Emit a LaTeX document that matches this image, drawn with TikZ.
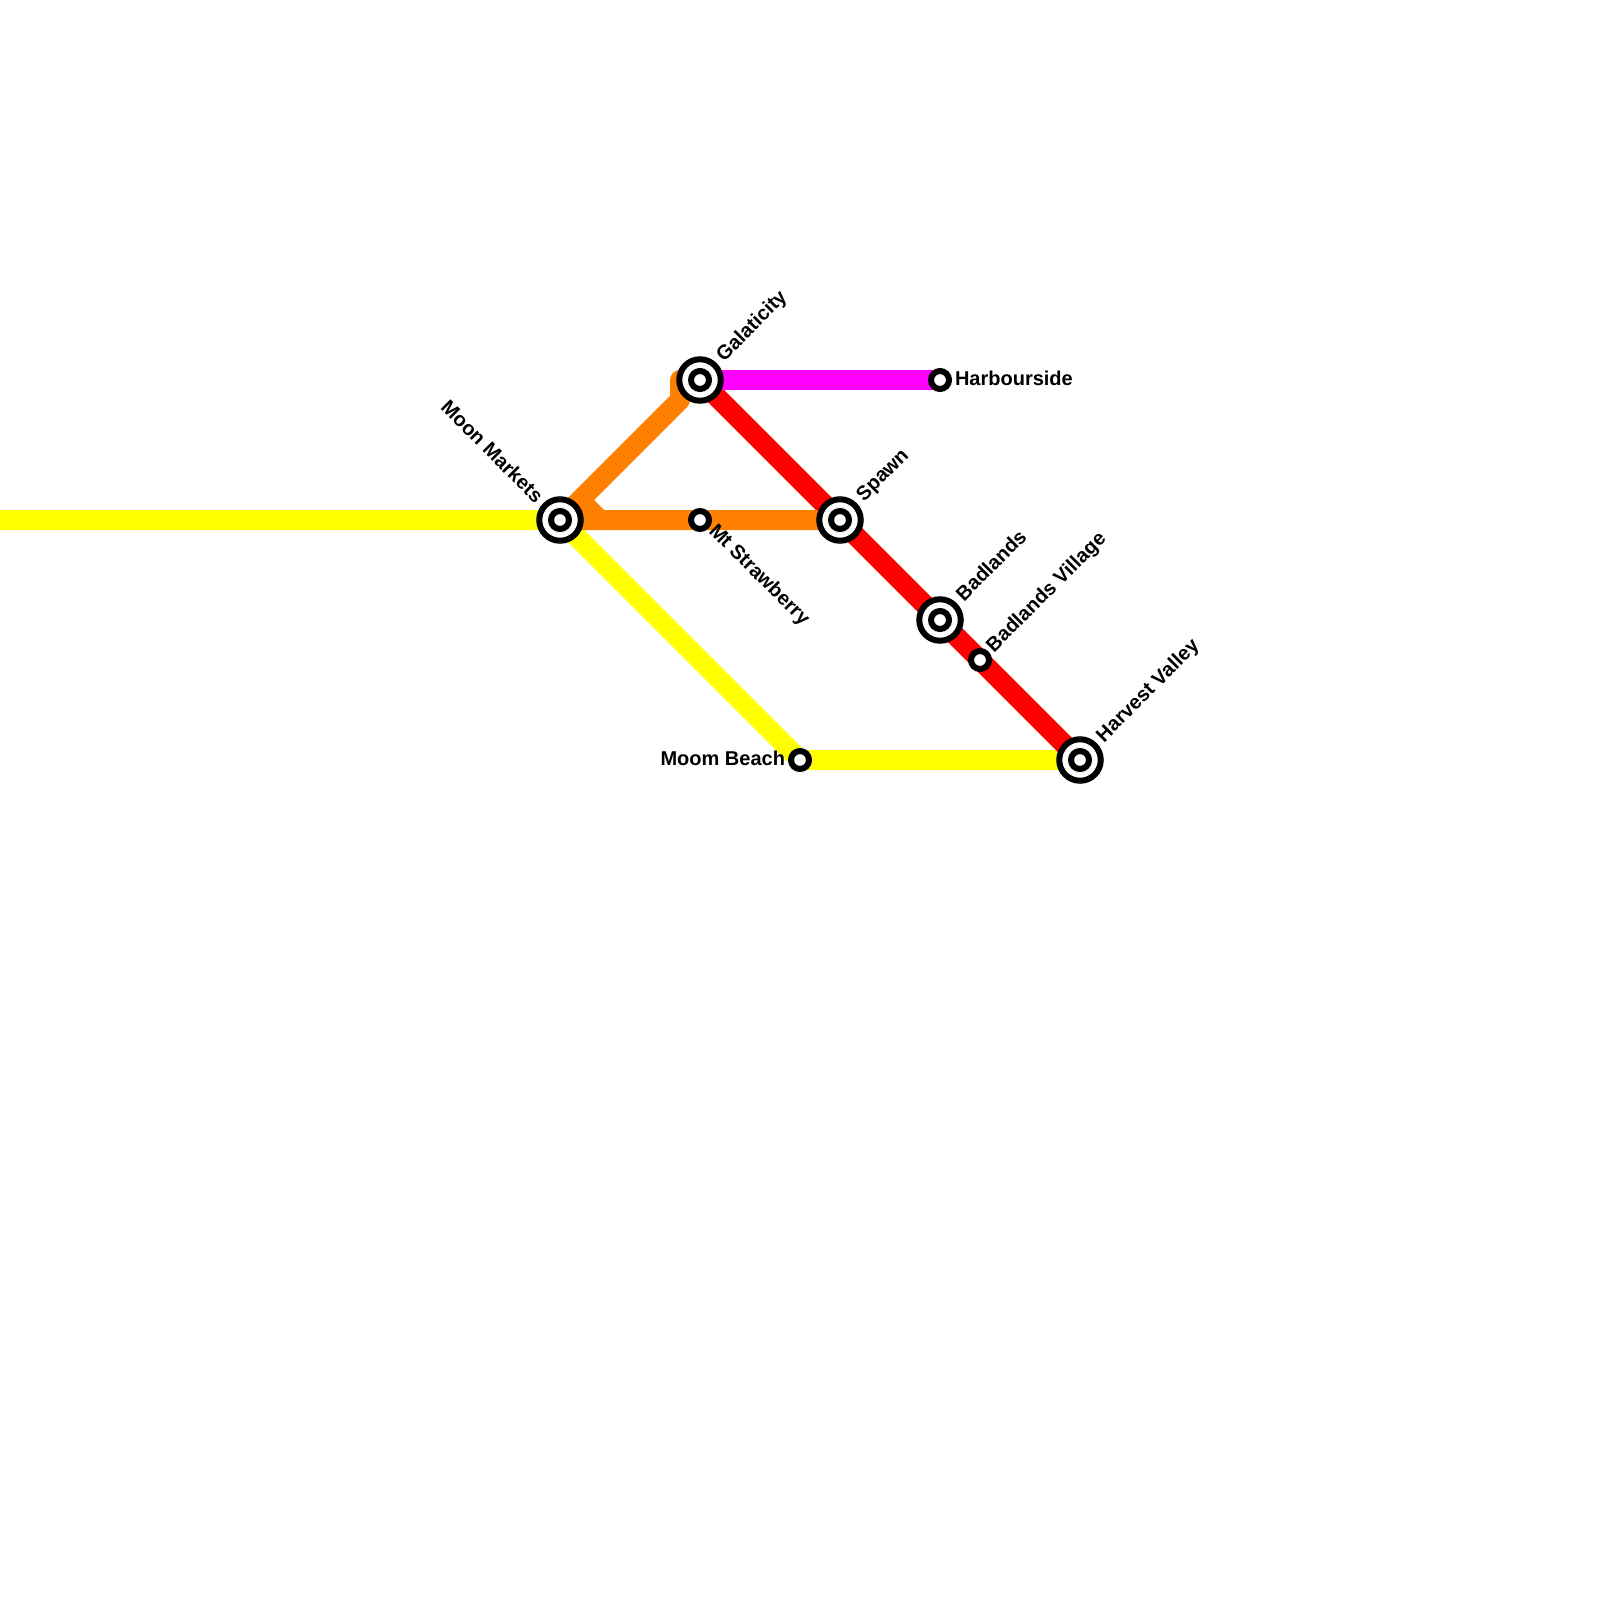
\documentclass[tikz,border=0pt]{standalone}
\usepackage{fontspec}
\setmainfont{Liberation Sans}
\pgfdeclarelayer{lines}
\pgfsetlayers{lines,main}
\definecolor{lineyellow}{RGB}{255,255,0}
\definecolor{lineorange}{RGB}{255,128,0}
\definecolor{linered}{RGB}{255,0,0}
\definecolor{linemagenta}{RGB}{255,0,255}
\tikzset{
  metro/.style={line width=20pt,line cap=round,line join=round},
  ring/.style={circle,draw=black,fill=white,line width=6pt,minimum size=18pt,inner sep=0pt,outer sep=0pt},
  hubring/.style={circle,draw=black,fill=white,line width=6pt,minimum size=41.5pt,inner sep=0pt,outer sep=0pt},
  lab/.style={inner sep=0pt,outer sep=0pt,font=\fontsize{20}{20}\selectfont\bfseries,text=black},
}
\begin{document}
\begin{tikzpicture}[x=1pt,y=-1pt]
\useasboundingbox (0,0) rectangle (1600,1600);
% stations
\node[hubring] (moon) at (560,520) {};
\node[ring] (moonin) at (moon.center) {};
\node[hubring] (gal) at (700,380) {};
\node[ring] (galin) at (gal.center) {};
\node[hubring] (spawn) at (840,520) {};
\node[ring] (spawnin) at (spawn.center) {};
\node[hubring] (bad) at (940,620) {};
\node[ring] (badin) at (bad.center) {};
\node[hubring] (harv) at (1080,760) {};
\node[ring] (harvin) at (harv.center) {};
\node[ring] (straw) at (700,520) {};
\node[ring] (badv) at (980,660) {};
\node[ring] (beach) at (800,760) {};
\node[ring] (harb) at (940,380) {};
% bends
\coordinate (west) at (0,520);
\coordinate (orA) at (680,380);
\coordinate (orB) at (680,400);
\coordinate (orC) at (580,500);
\coordinate (orD) at (600,520);
% lines
\begin{pgfonlayer}{lines}
\fill[white] (0,0) rectangle (1600,1600);
\draw[metro,lineyellow] (west) -- (moon.center) -- (beach.center) -- (harv.center);
\draw[metro,linered] (gal.center) -- (spawn.center) -- (bad.center) -- (badv.center) -- (harv.center);
\draw[metro,linemagenta] (gal.center) -- (harb.center);
\draw[metro,lineorange] (gal.center) -- (orA) -- (orB) -- (moon.center) -- (straw.center) -- (spawn.center);
\draw[metro,lineorange,line cap=butt] (orC) -- (orD);
\end{pgfonlayer}
% labels
\node[lab,anchor=base east,rotate=-45] (lmoon) at (535,504) {Moon Markets};
\node[lab,anchor=base west,rotate=45] (lgal) at (724,362) {Galaticity};
\node[lab,anchor=base west,rotate=45] (lspawn) at (864,502) {Spawn};
\node[lab,anchor=base west,rotate=45] (lbad) at (964,602) {Badlands};
\node[lab,anchor=base west,rotate=45] (lbadv) at (994,653) {Badlands Village};
\node[lab,anchor=base west,rotate=45] (lharv) at (1104,743) {Harvest Valley};
\node[lab,anchor=base west,rotate=-45] (lstraw) at (708,532) {Mt Strawberry};
\node[lab,anchor=base east] (lbeach) at (785,765) {Moom Beach};
\node[lab,anchor=base west] (lharb) at (955,385) {Harbourside};
\end{tikzpicture}
\end{document}
